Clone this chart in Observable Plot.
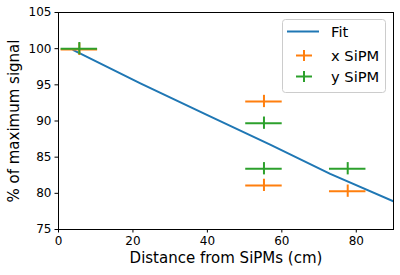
<!DOCTYPE html>
<html>
<head>
<meta charset="utf-8">
<script src="https://cdn.jsdelivr.net/npm/d3@7"></script>
<script src="https://cdn.jsdelivr.net/npm/@observablehq/plot@0.6"></script>
<style>
  body { margin: 0; background: #fff; }
  #wrap { position: relative; width: 400px; height: 275px; font-family: "DejaVu Sans", sans-serif; }
  #legend { position: absolute; left: 282px; top: 19px; }
</style>
</head>
<body>
<div id="wrap"></div>
<script>
// Data
const xTicks = [0, 20, 40, 60, 80];
const yTicks = [75, 80, 85, 90, 95, 100, 105];

const fitX = [4, 22, 40, 57, 73, 90];
const fitY = [99.8, 95.2, 90.8, 86.7, 82.7, 78.9];

const xSipmX = [5.6, 55.2, 55.2, 77.7];
const xSipmY = [99.9, 92.7, 81.1, 80.3];

const ySipmX = [5.6, 55.2, 55.2, 77.7];
const ySipmY = [100, 89.7, 83.4, 83.4];

const xErr = 4.9;
const yErr = 0.85;

const seriesNames = ["Fit", "x SiPM", "y SiPM"];
const xLabel = "Distance from SiPMs (cm)";
const yLabel = "% of maximum signal";

const colors = { fit: "#1f77b4", x: "#ff7f0e", y: "#2ca02c" };

const fit = fitX.map((x, i) => ({ x, y: fitY[i] }));
const xs = xSipmX.map((x, i) => ({ x, y: xSipmY[i] }));
const ys = ySipmX.map((x, i) => ({ x, y: ySipmY[i] }));

function errMarks(data, color) {
  return [
    Plot.ruleY(data, { y: "y", x1: d => d.x - xErr, x2: d => d.x + xErr, stroke: color, strokeWidth: 2 }),
    Plot.ruleX(data, { x: "x", y1: d => d.y - yErr, y2: d => d.y + yErr, stroke: color, strokeWidth: 2 })
  ];
}

const chart = Plot.plot({
  width: 400,
  height: 275,
  marginLeft: 58,
  marginRight: 7,
  marginTop: 12,
  marginBottom: 46,
  style: { fontFamily: "DejaVu Sans, sans-serif", fontSize: "12px", color: "#000", background: "#fff" },
  x: { domain: [0, 90] },
  y: { domain: [75, 105] },
  marks: [
    Plot.axisX({ ticks: xTicks, tickSize: 3.5, tickPadding: 3.5, label: null, fontSize: 12 }),
    Plot.axisY({ ticks: yTicks, tickSize: 3.5, tickPadding: 3.5, label: null, fontSize: 12 }),
    Plot.line(fit, { x: "x", y: "y", stroke: colors.fit, strokeWidth: 2, clip: true }),
    ...errMarks(xs, colors.x),
    ...errMarks(ys, colors.y),
    Plot.frame({ stroke: "#000", strokeWidth: 1 }),
    Plot.text([xLabel], { text: d => d, frameAnchor: "bottom", dy: 33, fontSize: 15, textAnchor: "middle", fill: "#000" }),
    Plot.text([yLabel], { text: d => d, frameAnchor: "left", dx: -44, rotate: -90, fontSize: 15, textAnchor: "middle", fill: "#000" })
  ]
});

const wrap = document.getElementById("wrap");
wrap.appendChild(chart);

// Legend
const ns = "http://www.w3.org/2000/svg";
const lg = document.createElementNS(ns, "svg");
lg.setAttribute("id", "legend");
lg.setAttribute("width", 105);
lg.setAttribute("height", 75);
const box = document.createElementNS(ns, "rect");
Object.entries({ x: 0.5, y: 0.5, width: 103, height: 73, rx: 3, fill: "rgba(255,255,255,0.8)", stroke: "#cccccc" })
  .forEach(([k, v]) => box.setAttribute(k, v));
lg.appendChild(box);
const rows = [12.5, 36.5, 57.5];
const rowColors = [colors.fit, colors.x, colors.y];
seriesNames.forEach((name, i) => {
  const cy = rows[i];
  if (i === 0) {
    const l = document.createElementNS(ns, "line");
    Object.entries({ x1: 5, x2: 37, y1: cy, y2: cy, stroke: rowColors[i], "stroke-width": 2 })
      .forEach(([k, v]) => l.setAttribute(k, v));
    lg.appendChild(l);
  } else {
    const h = document.createElementNS(ns, "line");
    Object.entries({ x1: 14, x2: 30, y1: cy, y2: cy, stroke: rowColors[i], "stroke-width": 2 })
      .forEach(([k, v]) => h.setAttribute(k, v));
    const v = document.createElementNS(ns, "line");
    Object.entries({ x1: 22, x2: 22, y1: cy - 5.5, y2: cy + 5.5, stroke: rowColors[i], "stroke-width": 2 })
      .forEach(([k, val]) => v.setAttribute(k, val));
    lg.appendChild(h);
    lg.appendChild(v);
  }
  const t = document.createElementNS(ns, "text");
  Object.entries({ x: 49, y: cy, "dominant-baseline": "central", "font-size": 14.7, "font-family": "DejaVu Sans, sans-serif", fill: "#000" })
    .forEach(([k, v]) => t.setAttribute(k, v));
  t.textContent = name;
  lg.appendChild(t);
});
wrap.appendChild(lg);
</script>
</body>
</html>
